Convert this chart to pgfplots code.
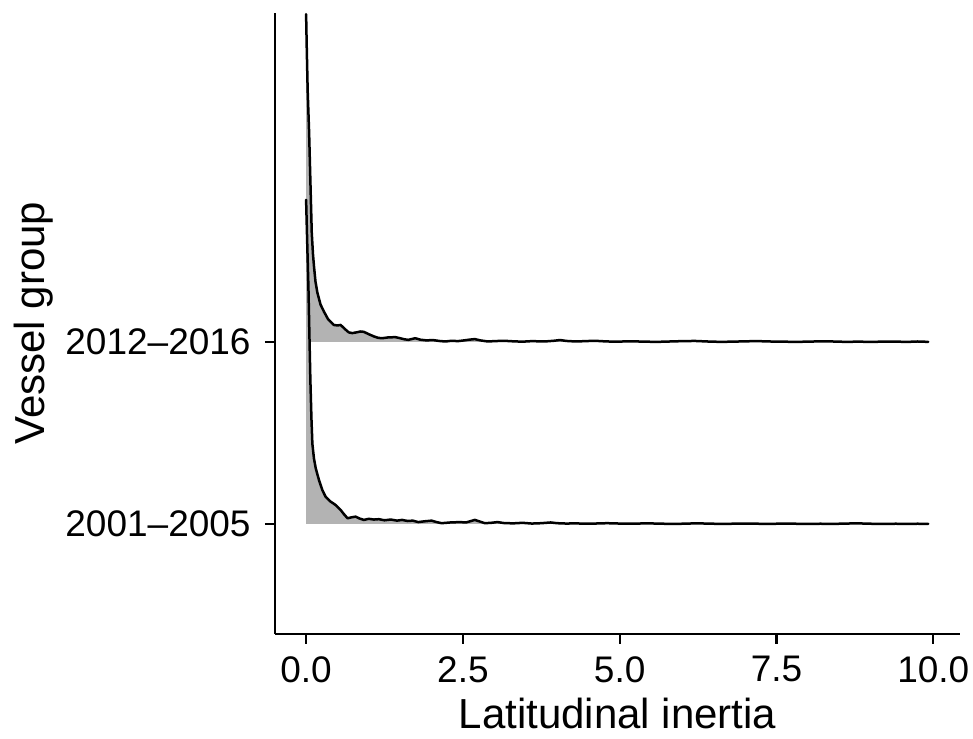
\documentclass[border=0pt]{standalone}
\usepackage{pgfplots}
\usepackage{pgfplotstable}
\pgfplotsset{compat=1.18}
\usepackage{fontspec}
\setmainfont{Liberation Sans}
\definecolor{ridgefill}{RGB}{179,179,179}

% 2012-2016 ridge (baseline y=2); first row is a baseline point
\pgfplotstableread{
x y
0.000 2.000
0.000 3.800
0.010 3.620
0.025 3.380
0.048 3.150
0.070 2.860
0.090 2.600
0.110 2.480
0.127 2.410
0.150 2.330
0.180 2.270
0.230 2.205
0.286 2.165
0.350 2.125
0.440 2.093
0.500 2.090
0.550 2.093
0.620 2.070
0.680 2.052
0.735 2.048
0.800 2.052
0.870 2.057
0.920 2.055
1.000 2.042
1.080 2.030
1.150 2.022
1.210 2.020
1.300 2.024
1.420 2.026
1.500 2.020
1.570 2.014
1.630 2.011
1.740 2.020
1.820 2.012
1.920 2.008
2.020 2.010
2.120 2.005
2.220 2.002
2.320 2.006
2.420 2.004
2.520 2.008
2.600 2.012
2.690 2.015
2.780 2.008
2.900 2.002
3.000 2.004
3.150 2.006
3.300 2.003
3.450 2.001
3.600 2.004
3.800 2.002
3.950 2.006
4.050 2.010
4.150 2.005
4.300 2.002
4.450 2.004
4.600 2.006
4.750 2.003
4.900 2.001
5.050 2.002
5.200 2.003
5.400 2.001
5.600 2.000
5.800 2.002
6.000 2.004
6.200 2.005
6.400 2.002
6.600 2.000
6.800 2.001
7.000 2.003
7.200 2.004
7.400 2.002
7.600 2.001
7.800 2.000
8.000 2.001
8.200 2.003
8.400 2.002
8.600 2.000
8.800 2.001
9.000 2.000
9.200 2.001
9.400 2.001
9.600 2.000
9.750 2.002
9.920 2.000
}\ridgeB

% 2001-2005 ridge (baseline y=1)
\pgfplotstableread{
x y
0.000 1.000
0.000 2.780
0.012 2.620
0.025 2.450
0.037 2.300
0.052 2.050
0.068 1.790
0.085 1.580
0.100 1.440
0.125 1.360
0.154 1.305
0.206 1.240
0.260 1.185
0.310 1.150
0.380 1.125
0.470 1.104
0.550 1.077
0.600 1.055
0.660 1.031
0.720 1.036
0.790 1.040
0.850 1.030
0.920 1.022
1.000 1.028
1.080 1.024
1.160 1.026
1.250 1.020
1.350 1.024
1.450 1.018
1.530 1.022
1.620 1.016
1.700 1.018
1.790 1.010
1.880 1.014
2.000 1.018
2.080 1.010
2.160 1.004
2.300 1.008
2.450 1.010
2.550 1.008
2.690 1.022
2.780 1.012
2.850 1.004
2.950 1.006
3.050 1.010
3.150 1.005
3.300 1.003
3.450 1.006
3.600 1.002
3.750 1.004
3.900 1.008
4.000 1.004
4.150 1.002
4.300 1.003
4.450 1.001
4.600 1.002
4.800 1.004
5.000 1.002
5.200 1.001
5.400 1.003
5.600 1.002
5.800 1.000
6.000 1.001
6.200 1.003
6.400 1.002
6.600 1.000
6.800 1.001
7.000 1.002
7.200 1.001
7.400 1.000
7.600 1.002
7.800 1.001
8.000 1.000
8.200 1.001
8.400 1.000
8.600 1.002
8.800 1.003
9.000 1.001
9.200 1.000
9.400 1.001
9.600 1.000
9.750 1.001
9.920 1.000
}\ridgeA

\begin{document}
\begin{tikzpicture}
\begin{axis}[
  anchor=south west, at={(0,0)},
  scale only axis,
  width=342.5pt, height=310.5pt,
  xmin=-0.496, xmax=10.426,
  ymin=0.397, ymax=3.808,
  axis x line*=bottom, axis y line*=left,
  axis line style={line width=1.1pt, black},
  every tick/.style={line width=1.1pt, black},
  tick align=outside,
  major tick length=5pt,
  xtick={0,2.5,5,7.5,10},
  xticklabels={0.0,2.5,5.0,7.5,10.0},
  ytick={1,2},
  yticklabels={2001–2005,2012–2016},
  tick label style={font=\fontsize{18.5}{21}\selectfont, text=black},
  xticklabel style={anchor=north, inner sep=0pt, yshift=-6.2pt},
  yticklabel style={anchor=east, inner sep=0pt, xshift=-7pt},
  xlabel={Latitudinal inertia},
  ylabel={Vessel group},
  label style={font=\fontsize{21}{25}\selectfont},
  xlabel style={at={(axis description cs:0.5,-0.1519)}, anchor=base},
  ylabel style={at={(axis description cs:-0.3372,0.5)}, anchor=base},
  clip=true,
]
% upper ridge first
\addplot[fill=ridgefill, draw=none] table {\ridgeB};
\addplot[black, line width=1.25pt, line cap=round, line join=round,
  skip coords between index={0}{1}] table {\ridgeB};
% lower ridge on top
\addplot[fill=ridgefill, draw=none] table {\ridgeA};
\addplot[black, line width=1.25pt, line cap=round, line join=round,
  skip coords between index={0}{1}] table {\ridgeA};
\end{axis}
\pgfresetboundingbox
\path[use as bounding box] (-137.5pt,-52.15pt) rectangle (349pt,316.85pt);
\end{tikzpicture}
\end{document}
